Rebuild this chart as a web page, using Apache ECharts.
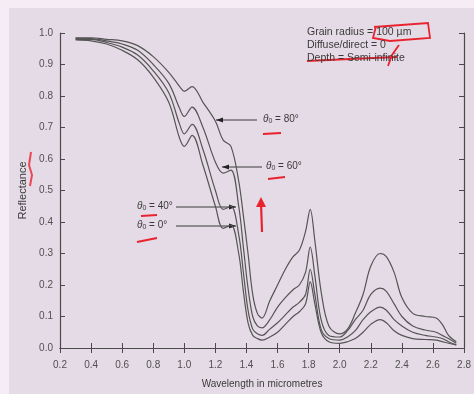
<!DOCTYPE html>
<html>
<head>
<meta charset="utf-8">
<script src="https://cdn.jsdelivr.net/npm/echarts@6/dist/echarts.min.js"></script>
<style>
  html, body { margin: 0; padding: 0; background: #e5dbe6; }
  #chart { width: 474px; height: 394px; }
</style>
</head>
<body>
<div id="chart"></div>
<script>
// wavelength (micrometres), shared by all four curves
const wavelength = [0.3, 0.4, 0.5, 0.6, 0.7, 0.8, 0.9, 0.97, 1.0, 1.05, 1.12, 1.2, 1.25, 1.3, 1.35, 1.38, 1.41, 1.44, 1.47, 1.5,
  1.55, 1.6, 1.65, 1.7, 1.74, 1.78, 1.81, 1.84, 1.88, 1.93, 2.0, 2.05, 2.1, 2.15, 2.2, 2.26, 2.3, 2.35, 2.4, 2.47, 2.55, 2.62, 2.66, 2.7, 2.75];

const refl80 = [0.985, 0.985, 0.98, 0.975, 0.96, 0.925, 0.875, 0.83, 0.815, 0.83, 0.78, 0.72, 0.66, 0.64, 0.53, 0.42, 0.30, 0.17, 0.11, 0.095,
  0.15, 0.20, 0.25, 0.29, 0.31, 0.37, 0.44, 0.34, 0.18, 0.07, 0.045, 0.06, 0.11, 0.17, 0.26, 0.30, 0.29, 0.24, 0.16, 0.11, 0.10, 0.095, 0.075, 0.04, 0.02];
const refl60 = [0.983, 0.982, 0.975, 0.965, 0.945, 0.90, 0.84, 0.76, 0.735, 0.765, 0.70, 0.59, 0.555, 0.565, 0.45, 0.32, 0.19, 0.10, 0.07, 0.064,
  0.09, 0.13, 0.16, 0.185, 0.20, 0.24, 0.32, 0.23, 0.09, 0.04, 0.035, 0.055, 0.09, 0.12, 0.17, 0.19, 0.18, 0.14, 0.10, 0.07, 0.057, 0.05, 0.04, 0.03, 0.015];
const refl40 = [0.98, 0.98, 0.97, 0.955, 0.93, 0.88, 0.81, 0.71, 0.68, 0.71, 0.63, 0.50, 0.44, 0.45, 0.36, 0.24, 0.12, 0.06, 0.045, 0.04,
  0.06, 0.08, 0.105, 0.13, 0.145, 0.17, 0.25, 0.17, 0.06, 0.03, 0.025, 0.035, 0.055, 0.09, 0.115, 0.13, 0.12, 0.09, 0.07, 0.05, 0.04, 0.035, 0.03, 0.02, 0.01];
const refl0 = [0.978, 0.975, 0.965, 0.945, 0.915, 0.86, 0.78, 0.665, 0.64, 0.675, 0.58, 0.45, 0.38, 0.39, 0.30, 0.18, 0.08, 0.04, 0.03, 0.025,
  0.035, 0.05, 0.075, 0.10, 0.115, 0.14, 0.21, 0.14, 0.05, 0.02, 0.015, 0.02, 0.03, 0.05, 0.075, 0.09, 0.08, 0.055, 0.04, 0.03, 0.027, 0.025, 0.02, 0.015, 0.01];

const seriesNames = ['θ0 = 80°', 'θ0 = 60°', 'θ0 = 40°', 'θ0 = 0°'];
const seriesValues = [refl80, refl60, refl40, refl0];

const infoLines = ['Grain radius = 100 µm', 'Diffuse/direct = 0', 'Depth = Semi-infinite'];

const chart = echarts.init(document.getElementById('chart'));

const ink = '#3a3a3a';
const red = '#e8232e';
const axisLine = { lineStyle: { color: '#4a4a4a', width: 1.2 } };
const tickIn = { inside: true, length: 5, lineStyle: { color: '#4a4a4a' } };

function thetaLabel(txt, x, y) {
  return {
    type: 'text', left: x, top: y,
    style: {
      text: '{t|θ}{s|0} ' + txt,
      rich: {
        t: { fontStyle: 'italic', fontSize: 10, fill: ink, fontFamily: 'Liberation Sans' },
        s: { fontSize: 7, fill: ink, verticalAlign: 'bottom', padding: [4, 0, 0, 0], fontFamily: 'Liberation Sans' }
      },
      fontSize: 10, fill: ink, fontFamily: 'Liberation Sans'
    }
  };
}

function arrow(x1, x2, y) {
  // line from x1 (label side) to x2 (tip)
  const dir = x2 < x1 ? 1 : -1;
  return [
    { type: 'line', shape: { x1: x1, y1: y, x2: x2, y2: y }, style: { stroke: ink, lineWidth: 1 } },
    { type: 'polygon', shape: { points: [[x2, y], [x2 + dir * 7, y - 2.5], [x2 + dir * 7, y + 2.5]] }, style: { fill: '#222' } }
  ];
}

const graphics = [
  { type: 'rect', shape: { x: 0, y: 0, width: 9, height: 394 }, style: { fill: '#f6ecf6' } },
  { type: 'rect', shape: { x: 0, y: 0, width: 474, height: 8 }, style: { fill: '#f6ecf6' } },
  thetaLabel('= 80°', 263, 114),
  thetaLabel('= 60°', 266, 161),
  thetaLabel('= 40°', 137, 201),
  thetaLabel('= 0°', 137, 220),
  ...arrow(257, 216, 120),
  ...arrow(262, 222, 167),
  ...arrow(176, 236, 207),
  ...arrow(176, 236, 226),
  // red pen marks
  { type: 'polyline', shape: { points: [[263, 134], [281, 133]] }, style: { stroke: red, lineWidth: 2 } },
  { type: 'polyline', shape: { points: [[268, 179], [285, 177]] }, style: { stroke: red, lineWidth: 2 } },
  { type: 'polyline', shape: { points: [[141, 216], [157, 215]] }, style: { stroke: red, lineWidth: 2 } },
  { type: 'polyline', shape: { points: [[137, 242], [157, 238]] }, style: { stroke: red, lineWidth: 2 } },
  { type: 'polyline', shape: { points: [[262, 232], [261, 202]] }, style: { stroke: red, lineWidth: 2.2 } },
  { type: 'polygon', shape: { points: [[261, 197], [256, 207], [266, 207]] }, style: { fill: red } },
  { type: 'polyline', shape: { points: [[374, 27], [428, 23], [430, 38], [390, 41], [373, 38], [376, 26]] }, style: { stroke: red, lineWidth: 1.8, fill: null } },
  { type: 'polyline', shape: { points: [[307, 61], [350, 59], [397, 57]] }, style: { stroke: red, lineWidth: 1.8 } },
  { type: 'polyline', shape: { points: [[399, 45], [392, 55], [388, 66]] }, style: { stroke: red, lineWidth: 1.8 } },
  { type: 'polyline', shape: { points: [[31, 152], [29, 165], [32, 175], [30, 186]] }, style: { stroke: red, lineWidth: 2, opacity: 0.8 } }
];

infoLines.forEach(function (t, i) {
  graphics.push({
    type: 'text', left: 307, top: 27 + i * 13,
    style: { text: t, fontSize: 10.5, fill: ink, fontFamily: 'Liberation Sans' }
  });
});

const option = {
  backgroundColor: '#e5dbe6',
  animation: false,
  grid: { left: 60, right: 6, top: 33, bottom: 46, show: false },
  xAxis: [
    {
      type: 'value', min: 0.2, max: 2.8, interval: 0.2,
      name: 'Wavelength in micrometres', nameLocation: 'middle', nameGap: 31,
      nameTextStyle: { fontSize: 10, color: ink, fontFamily: 'Liberation Sans' },
      axisLine: axisLine, axisTick: tickIn, splitLine: { show: false },
      axisLabel: { fontSize: 10, color: '#505050', margin: 12, fontFamily: 'Liberation Sans',
        formatter: function (v) { return v.toFixed(1); } }
    },
    {
      type: 'value', position: 'top', min: 0.2, max: 2.8, interval: 0.2,
      axisLine: axisLine, axisTick: tickIn, axisLabel: { show: false }, splitLine: { show: false }
    }
  ],
  yAxis: [
    {
      type: 'value', min: 0, max: 1, interval: 0.1,
      name: 'Reflectance', nameLocation: 'middle', nameGap: 27,
      nameTextStyle: { fontSize: 11, color: ink, fontFamily: 'Liberation Sans' },
      axisLine: axisLine, axisTick: tickIn, splitLine: { show: false },
      axisLabel: { fontSize: 10, color: '#505050', margin: 7, fontFamily: 'Liberation Sans',
        formatter: function (v) { return v.toFixed(1); } }
    },
    {
      type: 'value', position: 'right', min: 0, max: 1, interval: 0.1,
      axisLine: axisLine, axisTick: tickIn, axisLabel: { show: false }, splitLine: { show: false }
    }
  ],
  series: seriesValues.map(function (vals, k) {
    return {
      name: seriesNames[k],
      type: 'line',
      smooth: 0.35,
      showSymbol: false,
      lineStyle: { color: '#555', width: 1.2 },
      data: wavelength.map(function (w, i) { return [w, vals[i]]; })
    };
  }),
  graphic: graphics
};

chart.setOption(option);
</script>
</body>
</html>
